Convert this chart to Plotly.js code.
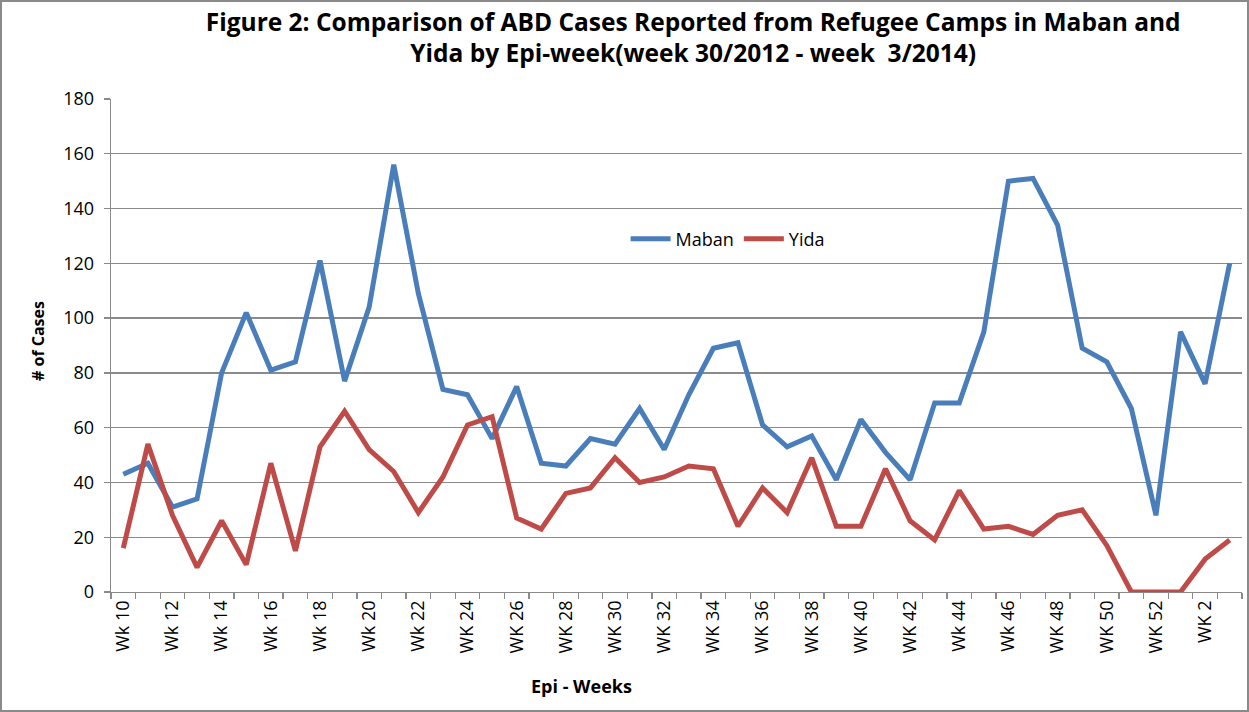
<!DOCTYPE html>
<html>
<head>
<meta charset="utf-8">
<script src="https://cdn.plot.ly/plotly-3.0.1.min.js"></script>
<style>
  html, body { margin: 0; padding: 0; background: #fff; }
  #chart { width: 1249px; height: 712px; }
</style>
</head>
<body>
<div id="chart"></div>
<script>
// Epi-week categories (week 10 ... week 52, then weeks 1-3 of the next year)
const weeks = [
  "Wk 10","Wk 11","Wk 12","Wk 13","Wk 14","Wk 15","Wk 16","Wk 17","Wk 18","Wk 19",
  "Wk 20","Wk 21","Wk 22","Wk 23","WK 24","WK 25","WK 26","WK 27","WK 28","WK 29",
  "WK 30","WK 31","WK 32","WK 33","WK 34","WK 35","WK 36","WK 37","WK 38","WK 39",
  "WK 40","WK 41","WK 42","WK 43","Wk 44","Wk 45","Wk 46","Wk 47","WK 48","WK 49",
  "WK 50","WK 51","WK 52","WK 1","WK 2","WK 3"
];

const maban = [43,47,31,34,80,102,81,84,121,77,104,156,109,74,72,56,75,47,46,56,
               54,67,52,72,89,91,61,53,57,41,63,51,41,69,69,95,150,151,134,89,
               84,67,28,95,76,120];

const yida  = [16,54,28,9,26,10,47,15,53,66,52,44,29,42,61,64,27,23,36,38,
               49,40,42,46,45,24,38,29,49,24,24,45,26,19,37,23,24,21,28,30,
               17,0,0,0,12,19];

const yTicks = [0,20,40,60,80,100,120,140,160,180];

const seriesNames = ["Maban", "Yida"];
const titleText = "Figure 2: Comparison of ABD Cases Reported from Refugee Camps in Maban and<br>Yida by Epi-week(week 30/2012 - week  3/2014)";
const xTitle = "Epi - Weeks";
const yTitle = "# of Cases";

const tickText = weeks.map((w, i) => (i % 2 === 0 ? w : ""));

const FONT = "'Open Sans', 'DejaVu Sans', sans-serif";
const GRID = "#8a8a8a";

const traces = [
  {
    x: weeks, y: maban, name: seriesNames[0], type: "scatter", mode: "lines",
    line: { color: "#4A7EBB", width: 5 }, cliponaxis: false
  },
  {
    x: weeks, y: yida, name: seriesNames[1], type: "scatter", mode: "lines",
    line: { color: "#BE4B48", width: 5 }, cliponaxis: false
  }
];

const layout = {
  width: 1249, height: 712,
  margin: { l: 111, r: 7, t: 99, b: 120 },
  paper_bgcolor: "#ffffff",
  plot_bgcolor: "#ffffff",
  font: { family: FONT, size: 18, color: "#000" },
  title: {
    text: titleText,
    font: { family: FONT, size: 24.5, color: "#000", weight: "bold" },
    xref: "container", x: 0.555, xanchor: "center",
    yref: "container", y: 0.957, yanchor: "top"
  },
  showlegend: true,
  legend: {
    orientation: "h",
    x: 0.455, xanchor: "left",
    y: 0.716, yanchor: "middle",
    bgcolor: "rgba(0,0,0,0)",
    font: { family: FONT, size: 18, color: "#000" },
    itemwidth: 40
  },
  xaxis: {
    type: "category",
    categoryorder: "array",
    categoryarray: weeks,
    range: [-0.5, weeks.length - 0.5],
    tickmode: "array",
    tickvals: weeks,
    ticktext: tickText,
    tickangle: -90,
    tickson: "boundaries",
    ticks: "outside",
    ticklen: 6,
    tickcolor: GRID,
    tickwidth: 1.3,
    showline: true,
    linecolor: GRID,
    linewidth: 1.3,
    showgrid: false,
    zeroline: false,
    tickfont: { family: FONT, size: 18, color: "#000" },
    fixedrange: true
  },
  yaxis: {
    range: [0, 180],
    tickmode: "array",
    tickvals: yTicks,
    ticks: "outside",
    ticklen: 6,
    tickcolor: GRID,
    tickwidth: 1.3,
    showline: true,
    linecolor: GRID,
    linewidth: 1.3,
    showgrid: true,
    gridcolor: GRID,
    gridwidth: 1.3,
    zeroline: false,
    tickfont: { family: FONT, size: 18, color: "#000" },
    ticklabelstandoff: 6,
    fixedrange: true
  },
  annotations: [
    {
      text: "<b>" + xTitle + "</b>",
      xref: "paper", yref: "paper",
      x: (581 - 111) / 1131, y: -(686 - 592) / 493,
      xanchor: "center", yanchor: "middle",
      showarrow: false,
      font: { family: FONT, size: 18, color: "#000" }
    },
    {
      text: "<b>" + yTitle + "</b>",
      xref: "paper", yref: "paper",
      x: -(111 - 38) / 1131, y: (592 - 341) / 493,
      xanchor: "center", yanchor: "middle",
      textangle: -90,
      showarrow: false,
      font: { family: FONT, size: 16, color: "#000" }
    }
  ],
  shapes: [
    {
      type: "rect", xref: "paper", yref: "paper",
      x0: (1 - 111) / 1131, x1: (1248 - 111) / 1131,
      y0: (592 - 711) / 493, y1: (592 - 1) / 493,
      line: { color: "#8a8a8a", width: 2 },
      fillcolor: "rgba(0,0,0,0)",
      layer: "above"
    }
  ]
};

Plotly.newPlot("chart", traces, layout, { displayModeBar: false, staticPlot: true });
</script>
</body>
</html>
